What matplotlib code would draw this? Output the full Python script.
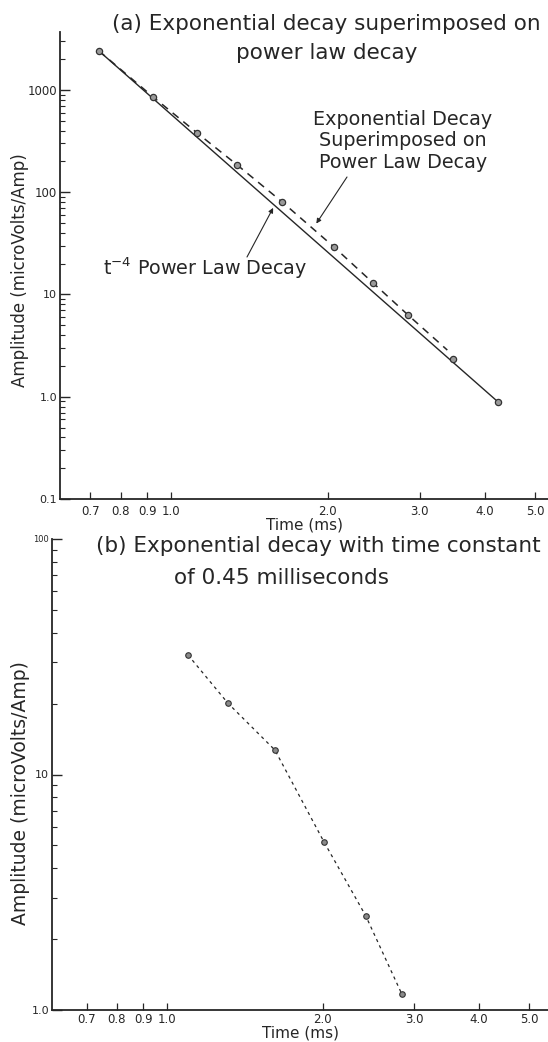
import matplotlib
matplotlib.use('Agg')
import matplotlib.pyplot as plt
import numpy as np

# (a) puntos medidos (ms, microVolts/Amp)
t_marc_a = [0.727, 0.924, 1.122, 1.339, 1.634, 2.055, 2.442, 2.850, 3.477, 4.243]
amp_marc_a = [2406, 854, 380, 185, 80.3, 29.1, 12.96, 6.30, 2.34, 0.889]

# recta de la ley de potencia t^-4
t_pot = [0.727, 4.243]
amp_pot = [2406, 0.889]

# exponencial superpuesta (linea discontinua)
t_exp = [0.727, 0.924, 1.122, 1.339, 1.634, 2.055, 2.442, 2.850, 3.39]
amp_exp = [2406, 854, 380, 185, 80.3, 29.1, 12.96, 6.30, 2.86]

# (b) decaimiento exponencial tau = 0.45 ms
t_b = [1.098, 1.311, 1.616, 2.01, 2.42, 2.84]
amp_b = [32.2, 20.1, 12.7, 5.17, 2.51, 1.17]

xticks = [0.7, 0.8, 0.9, 1.0, 2.0, 3.0, 4.0, 5.0]
xtick_labels = ['0.7', '0.8', '0.9', '1.0', '2.0', '3.0', '4.0', '5.0']
yticks_a = [0.1, 1, 10, 100, 1000]
ytick_labels_a = ['0.1', '1.0', '10', '100', '1000']
yticks_b = [1, 10, 100]
ytick_labels_b = ['1.0', '10', '100']

W, H = 548, 1042
tinta = '#262626'


def px(x, y):
    # pixeles de la imagen -> fraccion de figura
    return x / W, 1 - y / H


def ejes_log(ax, yticks, ylabels, ysize, xpad=4):
    ax.set_xscale('log')
    ax.set_yscale('log')
    for s in ['top', 'right']:
        ax.spines[s].set_visible(False)
    for s in ['left', 'bottom']:
        ax.spines[s].set_linewidth(1.3)
        ax.spines[s].set_color(tinta)
    ax.xaxis.set_major_locator(matplotlib.ticker.FixedLocator(xticks))
    ax.xaxis.set_minor_locator(matplotlib.ticker.NullLocator())
    ax.set_xticklabels(xtick_labels, fontsize=8.5, color=tinta)
    ax.tick_params(axis='x', direction='in', length=5, width=0.9, pad=xpad, colors=tinta)
    ax.yaxis.set_major_locator(matplotlib.ticker.FixedLocator(yticks))
    ax.yaxis.set_minor_locator(matplotlib.ticker.LogLocator(base=10, subs=np.arange(2, 10)))
    ax.yaxis.set_minor_formatter(matplotlib.ticker.NullFormatter())
    ax.set_yticklabels(ylabels, color=tinta)
    for lab, s in zip(ax.get_yticklabels(), ysize):
        lab.set_fontsize(s)
    ax.tick_params(axis='y', which='major', direction='in', length=7, width=1.0, pad=2, colors=tinta)
    ax.tick_params(axis='y', which='minor', direction='in', length=3.5, width=0.8, colors=tinta)


fig = plt.figure(figsize=(W / 100, H / 100), dpi=100)

# ---------------- panel (a)
ax1 = fig.add_axes([60 / W, 1 - 499 / H, 1 - 60 / W, (499 - 32) / H])
ax1.plot(t_pot, amp_pot, '-', color=tinta, lw=1.0)
ax1.plot(t_exp, amp_exp, color=tinta, lw=1.1, dashes=(5, 4))
ax1.plot(t_marc_a, amp_marc_a, 'o', ms=4.5, mfc='#9a9a9a', mec='#333333', mew=0.9)
ax1.set_xlim(0.612, 5.29)
ax1.set_ylim(0.1, 3690)
ejes_log(ax1, yticks_a, ytick_labels_a, [8, 8, 8, 8.5, 8.5])
ax1.set_xlabel('Time (ms)', fontsize=11, color=tinta, labelpad=0)
ax1.set_ylabel('Amplitude (microVolts/Amp)', fontsize=12, color=tinta)
ax1.yaxis.set_label_coords(-31 / (W - 60), 0.49)

fig.text(*px(326, 24), '(a) Exponential decay superimposed on', fontsize=15.5,
         ha='center', va='center', color=tinta)
fig.text(*px(327, 53), 'power law decay', fontsize=15.5, ha='center', va='center', color=tinta)
fig.text(*px(403, 141), 'Exponential Decay\nSuperimposed on\nPower Law Decay', fontsize=13.8,
         ha='center', va='center', color=tinta, linespacing=1.15)
fig.text(*px(103, 268), r't$^{-4}$ Power Law Decay', fontsize=13.8, ha='left', va='center', color=tinta)

# flechas: punta sobre las curvas
t1 = 1.9
a1 = 10 ** np.interp(np.log10(t1), np.log10(t_exp), np.log10(amp_exp))
t2 = 1.57
a2 = 10 ** np.interp(np.log10(t2), np.log10(t_pot), np.log10(amp_pot))
flecha = dict(arrowstyle='-|>', lw=0.8, color=tinta, mutation_scale=7, shrinkA=0, shrinkB=0)
ax1.annotate('', xy=(t1, a1 * 1.2), xytext=px(347, 177), textcoords='figure fraction', arrowprops=flecha)
ax1.annotate('', xy=(t2, a2 * 0.92), xytext=px(247, 257), textcoords='figure fraction', arrowprops=flecha)

# ---------------- panel (b)
ax2 = fig.add_axes([52 / W, 1 - 1010 / H, 1 - 52 / W, (1010 - 539) / H])
ax2.plot(t_b, amp_b, color=tinta, lw=0.9, dashes=(2.5, 3))
ax2.plot(t_b, amp_b, 'o', ms=4, mfc='#8a8a8a', mec='#333333', mew=0.8)
ax2.set_xlim(0.600, 5.44)
ax2.set_ylim(1, 100)
ejes_log(ax2, yticks_b, ytick_labels_b, [8, 8, 6], xpad=2)
ax2.set_xlabel('Time (ms)', fontsize=11, color=tinta, labelpad=0)
ax2.set_ylabel('Amplitude (microVolts/Amp)', fontsize=13.5, color=tinta)
ax2.yaxis.set_label_coords(-22 / (W - 52), 0.46)

fig.text(*px(318, 546), '(b) Exponential decay with time constant', fontsize=15.5,
         ha='center', va='center', color=tinta)
fig.text(*px(281, 578), 'of 0.45 milliseconds', fontsize=15.5, ha='center', va='center', color=tinta)

plt.savefig('out.png', dpi=100)
plt.close()
